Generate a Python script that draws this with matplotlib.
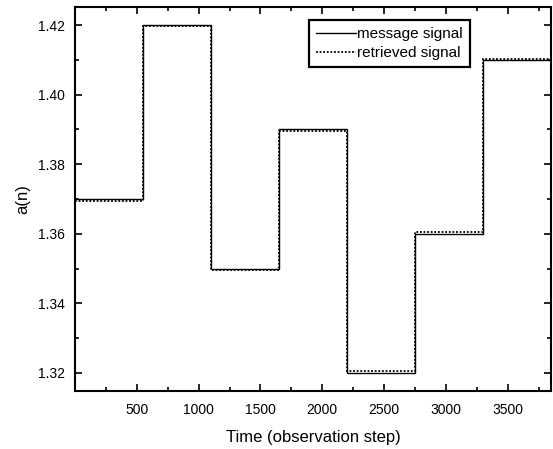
import numpy as np
import matplotlib
matplotlib.use('Agg')
from matplotlib import pyplot as plt
from matplotlib.ticker import MultipleLocator

plt.rcParams['font.family'] = ['Liberation Sans', 'DejaVu Sans']

# step boundaries (observation step) and signal levels
edges = [0, 550, 1100, 1650, 2200, 2750, 3300, 3850]
message = [1.370, 1.420, 1.350, 1.390, 1.320, 1.360, 1.410]
retrieved = [1.3695, 1.4196, 1.3495, 1.3896, 1.3205, 1.3605, 1.4103]

fig = plt.figure(figsize=(5.53, 4.49), dpi=100)
ax = fig.add_axes([0.1356, 0.1292, 0.8608, 0.8552])

ax.stairs(message, edges, color='black', lw=1.0, label='message signal', baseline=None)
ax.stairs(retrieved, edges, color='black', lw=1.3, ls=(0, (1, 1)), label='retrieved signal', baseline=None)

ax.set_xlim(0, 3850)
ax.set_ylim(1.3148, 1.4252)
ax.set_xticks([500, 1000, 1500, 2000, 2500, 3000, 3500])
ax.xaxis.set_minor_locator(MultipleLocator(250))
ax.set_yticks([1.32, 1.34, 1.36, 1.38, 1.40, 1.42])
ax.yaxis.set_minor_locator(MultipleLocator(0.01))
ax.yaxis.set_major_formatter(plt.FormatStrFormatter('%.2f'))
ax.tick_params(which='both', direction='in', top=True, right=True, width=1.2, labelsize=10)
ax.tick_params(which='major', length=5)
ax.tick_params(which='minor', length=3)
ax.tick_params(axis='x', pad=9)
ax.tick_params(axis='y', pad=7)
for s in ax.spines.values():
    s.set_linewidth(1.5)

ax.set_xlabel('Time (observation step)', fontsize=12, labelpad=9)
ax.set_ylabel('a(n)', fontsize=12, labelpad=6)

leg = ax.legend(loc='upper right', bbox_to_anchor=(0.845, 0.985), fontsize=11, fancybox=False,
                edgecolor='black', framealpha=1, handlelength=2.6, handletextpad=0.1,
                borderpad=0.45, labelspacing=0.3)
leg.get_frame().set_linewidth(1.6)

fig.savefig('out.png', dpi=100)
